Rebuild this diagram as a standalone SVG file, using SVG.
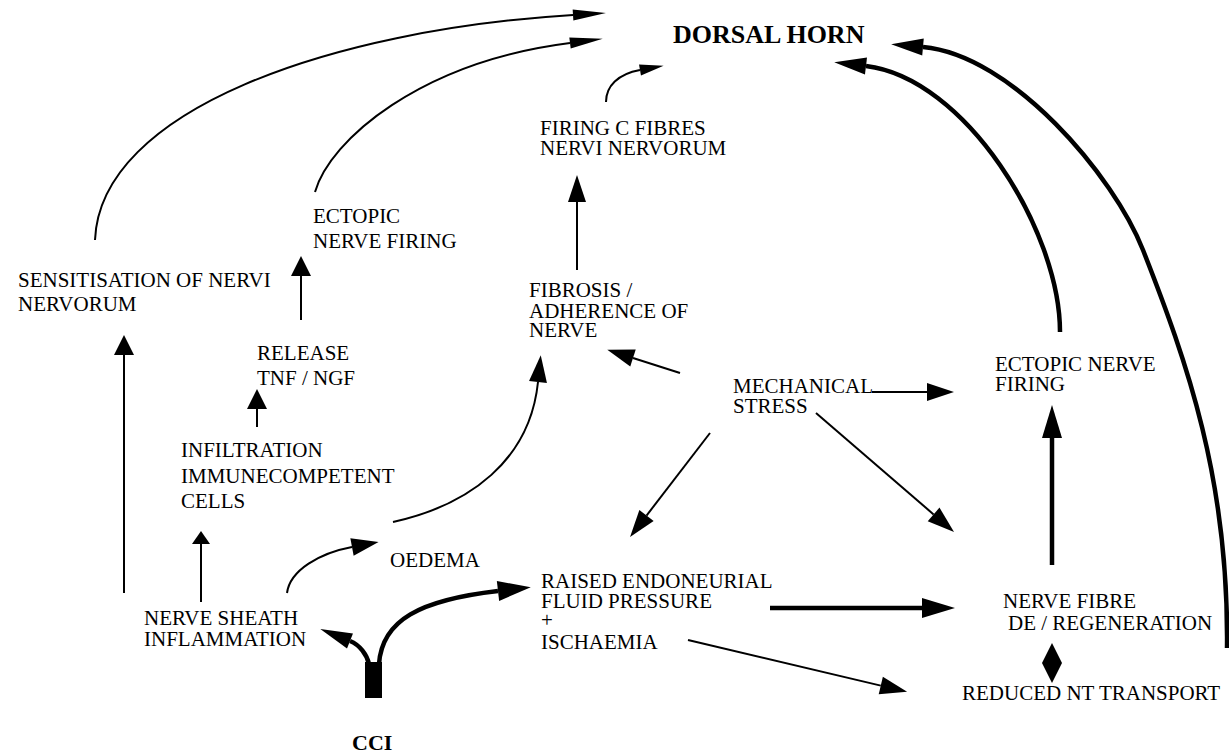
<svg xmlns="http://www.w3.org/2000/svg" width="1229" height="755" viewBox="0 0 1229 755">
<style>
text{font-family:"Liberation Serif","Times New Roman","DejaVu Serif",serif;font-size:21px;fill:#000}
.b{font-weight:bold}
.h{font-size:26px}
.ci{font-size:22px}
.c{fill:none;stroke:#000;stroke-width:2}
.k{fill:none;stroke:#000;stroke-width:4.5}
.m{fill:#000;stroke:none}
</style>
<defs>
<marker id="ah" markerUnits="userSpaceOnUse" markerWidth="28" markerHeight="18" viewBox="0 0 28 18" refX="0" refY="9" orient="auto" overflow="visible"><path class="m" d="M0,0 L27,9 L0,18 z"/></marker>
<marker id="ahs" markerUnits="userSpaceOnUse" markerWidth="21" markerHeight="20" viewBox="0 0 21 20" refX="0" refY="10" orient="auto" overflow="visible"><path class="m" d="M0,0 L20,10 L0,20 z"/></marker>
<marker id="ahq" markerUnits="userSpaceOnUse" markerWidth="14" markerHeight="18" viewBox="0 0 14 18" refX="0" refY="9" orient="auto" overflow="visible"><path class="m" d="M0,0 L13,9 L0,18 z"/></marker>
<marker id="ahn" markerUnits="userSpaceOnUse" markerWidth="34" markerHeight="11" viewBox="0 0 34 11" refX="0" refY="5.5" orient="auto" overflow="visible"><path class="m" d="M0,0 L33,5.5 L0,11 z"/></marker>
<marker id="ahm" markerUnits="userSpaceOnUse" markerWidth="25" markerHeight="11" viewBox="0 0 25 11" refX="0" refY="5.5" orient="auto" overflow="visible"><path class="m" d="M0,0 L24,5.5 L0,11 z"/></marker>
<marker id="aht" markerUnits="userSpaceOnUse" markerWidth="34" markerHeight="20" viewBox="0 0 34 20" refX="0" refY="10" orient="auto" overflow="visible"><path class="m" d="M0,0 L33,10 L0,20 z"/></marker>
<marker id="ahr" markerUnits="userSpaceOnUse" markerWidth="33" markerHeight="17" viewBox="0 0 33 17" refX="0" refY="8.5" orient="auto" overflow="visible"><path class="m" d="M0,0 L32,8.5 L0,17 z"/></marker>
<marker id="ahl" markerUnits="userSpaceOnUse" markerWidth="33" markerHeight="16" viewBox="0 0 33 16" refX="0" refY="8" orient="auto" overflow="visible"><path class="m" d="M0,0 L32,8 L0,16 z"/></marker>
</defs>
<rect width="1229" height="755" fill="#fff"/>

<g id="connectors">
<path class="c" d="M95,240 C100,110 330,30 573,15" marker-end="url(#ahn)"/>
<path class="c" d="M315,192 C330,140 420,62 570,43" marker-end="url(#ahn)"/>
<path class="c" d="M606,102 C606,86 618,74 640,70" marker-end="url(#ahm)"/>
<path class="c" d="M577,270 V202" marker-end="url(#ah)"/>
<path class="c" d="M124,593 V355" marker-end="url(#ahs)"/>
<path class="c" d="M301,320 V276" marker-end="url(#ahs)"/>
<path class="c" d="M257,427 V409" marker-end="url(#ahs)"/>
<path class="c" d="M201,602 V544" marker-end="url(#ahq)"/>
<path class="c" d="M287,593 C290,570 320,553 352,547" marker-end="url(#ah)"/>
<path class="c" d="M393,522 C470,505 530,460 538,382" stroke-width="2.5" marker-end="url(#ah)"/>
<path class="c" d="M680,373 L633,358" marker-end="url(#ah)"/>
<path class="c" d="M872,392 H927" marker-end="url(#ah)"/>
<path class="c" d="M710,433 L646.5,515.6" marker-end="url(#ah)"/>
<path class="c" d="M816,413 L933.6,514.4" marker-end="url(#ah)"/>
<path class="k" d="M770,608 H922" marker-end="url(#aht)"/>
<path class="c" d="M688,640 L880.8,685.6" marker-end="url(#ah)"/>
<path class="k" d="M1052,565 V438" stroke-width="4" marker-end="url(#aht)"/>
<path class="k" d="M1060,332 C1060,230 965,78 866,66" stroke-width="4" marker-end="url(#ahr)"/>
<path class="k" d="M1227,648 C1229,480 1187,362 1143,250 C1113.7,175.5 1012,55 923,47" stroke-width="4" marker-end="url(#ahr)"/>
<path class="k" d="M379,664 C382,620 420,600 498,591" stroke-width="5" marker-end="url(#aht)"/>
<path class="k" d="M369,664 C367,655 360,645 350,641" stroke-width="5" marker-end="url(#ahl)"/>
<polygon class="m" points="1052,643 1062,663 1052,683 1042,663"/>
</g>

<g id="dorsal-horn"><text class="b h" x="673" y="43">DORSAL HORN</text></g>
<g id="firing-c-fibres"><text x="540" y="135">FIRING C FIBRES</text><text x="540" y="155">NERVI NERVORUM</text></g>
<g id="ectopic-left"><text x="313" y="223">ECTOPIC</text><text x="313" y="248">NERVE FIRING</text></g>
<g id="sensitisation"><text x="18" y="287">SENSITISATION OF NERVI</text><text x="18" y="311">NERVORUM</text></g>
<g id="fibrosis"><text x="529" y="297">FIBROSIS /</text><text x="529" y="318">ADHERENCE OF</text><text x="529" y="337">NERVE</text></g>
<g id="release"><text x="257" y="360">RELEASE</text><text x="257" y="385">TNF / NGF</text></g>
<g id="mechanical-stress"><text x="733" y="393">MECHANICAL</text><text x="733" y="413">STRESS</text></g>
<g id="ectopic-right"><text x="995" y="371">ECTOPIC NERVE</text><text x="995" y="391">FIRING</text></g>
<g id="infiltration"><text x="181" y="457">INFILTRATION</text><text x="181" y="483">IMMUNECOMPETENT</text><text x="181" y="508">CELLS</text></g>
<g id="oedema"><text x="390" y="567">OEDEMA</text></g>
<g id="raised"><text x="541" y="588">RAISED ENDONEURIAL</text><text x="541" y="608">FLUID PRESSURE</text><text x="541" y="627">+</text><text x="541" y="649">ISCHAEMIA</text></g>
<g id="nerve-sheath"><text x="144" y="625">NERVE SHEATH</text><text x="144" y="646">INFLAMMATION</text></g>
<g id="nerve-fibre"><text x="1003" y="608">NERVE FIBRE</text><text x="1008" y="630">DE / REGENERATION</text></g>
<g id="reduced-nt"><text x="962" y="700">REDUCED NT TRANSPORT</text></g>
<g id="cci"><rect x="365" y="662" width="17" height="36" fill="#000"/><text class="b ci" x="352" y="750">CCI</text></g>
</svg>
